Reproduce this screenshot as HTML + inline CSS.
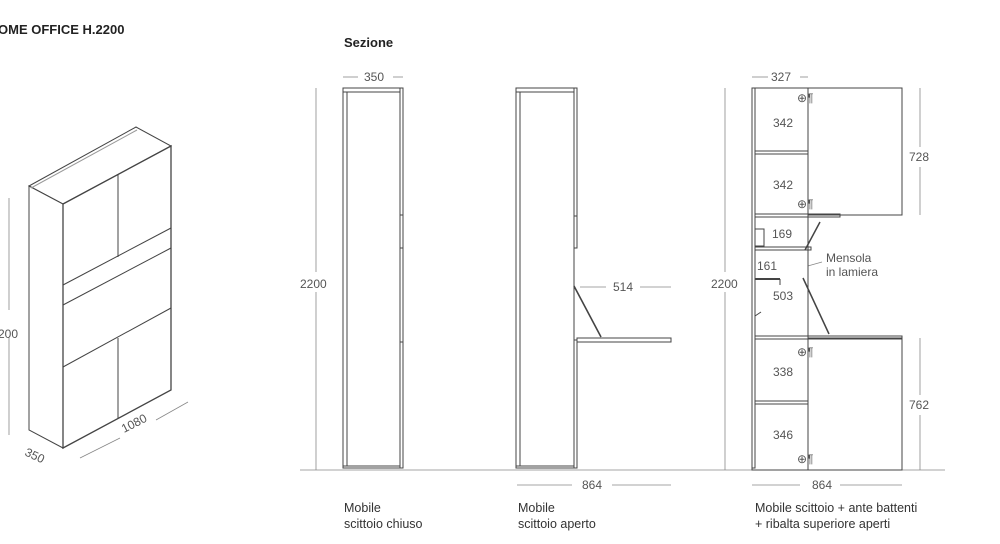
<!DOCTYPE html>
<html><head><meta charset="utf-8"><style>
html,body{margin:0;padding:0;background:#fff;width:1000px;height:544px;overflow:hidden}
svg{display:block}
text{font-family:"Liberation Sans",sans-serif;fill:#555;font-size:12px}
.b{fill:#222;font-weight:bold;font-size:13px}
.c{fill:#333;font-size:12.5px}
</style></head><body>
<svg width="1000" height="544" viewBox="0 0 1000 544" xmlns="http://www.w3.org/2000/svg">
<g stroke="#444" stroke-width="1" fill="none">
<!-- iso cabinet -->
<polygon points="29,186 136,127 171,146 63,204" fill="#fff"/>
<polygon points="29,186 63,204 63,448 29,430" fill="#fff"/>
<polygon points="63,204 171,146 171,390 63,448" fill="#fff" stroke-width="1.3"/>
<line x1="31" y1="188" x2="137" y2="130" stroke="#999"/>
<line x1="63" y1="285" x2="171" y2="228"/>
<line x1="63" y1="305" x2="171" y2="248"/>
<line x1="63" y1="367" x2="171" y2="308"/>
<line x1="118" y1="175" x2="118" y2="257"/>
<line x1="118" y1="338" x2="118" y2="418"/>
<g stroke="#888" stroke-width="0.8">
<line x1="9" y1="198" x2="9" y2="310"/><line x1="9" y1="338" x2="9" y2="435"/>
<line x1="80" y1="458" x2="120" y2="438"/><line x1="156" y1="420" x2="188" y2="402"/>
<line x1="316" y1="88" x2="316" y2="272"/><line x1="316" y1="292" x2="316" y2="470"/>
<line x1="300" y1="470" x2="945" y2="470"/>
<line x1="343" y1="77" x2="358" y2="77"/><line x1="393" y1="77" x2="403" y2="77"/>
<line x1="580" y1="287" x2="606" y2="287"/><line x1="640" y1="287" x2="671" y2="287"/>
<line x1="517" y1="485" x2="572" y2="485"/><line x1="612" y1="485" x2="671" y2="485"/>
<line x1="752" y1="485" x2="800" y2="485"/><line x1="840" y1="485" x2="902" y2="485"/>
<line x1="752" y1="77" x2="768" y2="77"/><line x1="800" y1="77" x2="808" y2="77"/>
<line x1="725" y1="88" x2="725" y2="272"/><line x1="725" y1="292" x2="725" y2="470"/>
<line x1="920" y1="88" x2="920" y2="147"/><line x1="920" y1="167" x2="920" y2="215"/>
<line x1="920" y1="338" x2="920" y2="395"/><line x1="920" y1="415" x2="920" y2="470"/>
<line x1="783" y1="92" x2="783" y2="114"/><line x1="783" y1="130" x2="783" y2="176"/><line x1="783" y1="192" x2="783" y2="213"/>
<line x1="783" y1="340" x2="783" y2="364"/><line x1="783" y1="380" x2="783" y2="426"/><line x1="783" y1="442" x2="783" y2="466"/>
<line x1="765" y1="278" x2="822" y2="262"/>
</g>
<!-- section 1 -->
<rect x="343" y="88" width="57" height="380" fill="#fff"/>
<line x1="347" y1="92" x2="347" y2="466"/>
<line x1="343" y1="92" x2="400" y2="92"/><line x1="343" y1="466" x2="400" y2="466"/>
<rect x="400" y="88" width="3" height="380"/>
<line x1="400" y1="215" x2="403" y2="215"/><line x1="400" y1="248" x2="403" y2="248"/><line x1="400" y1="342" x2="403" y2="342"/>
<!-- section 2 -->
<rect x="516" y="88" width="58" height="380" fill="#fff"/>
<line x1="520" y1="92" x2="520" y2="466"/>
<line x1="516" y1="92" x2="574" y2="92"/><line x1="516" y1="466" x2="574" y2="466"/>
<rect x="574" y="88" width="3" height="128"/>
<rect x="574" y="216" width="3" height="32"/>
<rect x="574" y="340" width="3" height="128"/>
<rect x="577" y="338" width="94" height="4"/>
<line x1="574" y1="286" x2="601" y2="337" stroke-width="1.6"/>
<!-- section 3 -->
<rect x="752" y="88" width="56" height="382" fill="#fff"/>
<rect x="752" y="88" width="3" height="380"/>
<rect x="808" y="88" width="94" height="127"/>
<rect x="808" y="338" width="94" height="132"/>
<rect x="755" y="151" width="53" height="3"/>
<rect x="755" y="214" width="85" height="3"/>
<rect x="755" y="247" width="56" height="3"/>
<rect x="755" y="401" width="53" height="3"/>
<rect x="755" y="336" width="147" height="3"/>
<line x1="755" y1="279" x2="780" y2="279" stroke-width="2"/>
<line x1="780" y1="279" x2="780" y2="285"/>
<line x1="805" y1="250" x2="820" y2="222" stroke-width="1.5"/>
<line x1="803" y1="278" x2="829" y2="334" stroke-width="1.5"/>
<rect x="755" y="229" width="9" height="17"/>
<line x1="755" y1="316" x2="761" y2="312"/>
</g>
<g fill="#555" font-size="10">
<text x="797" y="102">⊕¶</text><text x="797" y="208">⊕¶</text><text x="797" y="356">⊕¶</text><text x="797" y="463">⊕¶</text>
</g>
<text class="b" x="-2" y="34">OME OFFICE H.2200</text>
<text class="b" x="344" y="47">Sezione</text>
<text x="-2" y="338">200</text>
<text x="24" y="455" transform="rotate(25 24 455)">350</text>
<text x="124" y="433" transform="rotate(-27 124 433)">1080</text>
<text x="300" y="288">2200</text>
<text x="364" y="81">350</text>
<text x="613" y="291">514</text>
<text x="582" y="489">864</text>
<text x="711" y="288">2200</text>
<text x="771" y="81">327</text>
<text x="773" y="127">342</text><text x="773" y="189">342</text>
<text x="772" y="238">169</text><text x="757" y="270">161</text><text x="773" y="300">503</text>
<text x="773" y="376">338</text><text x="773" y="439">346</text>
<text x="909" y="161">728</text><text x="909" y="409">762</text>
<text x="826" y="262">Mensola</text><text x="826" y="276">in lamiera</text>
<text x="812" y="489">864</text>
<text class="c" x="344" y="512">Mobile</text><text class="c" x="344" y="528">scittoio chiuso</text>
<text class="c" x="518" y="512">Mobile</text><text class="c" x="518" y="528">scittoio aperto</text>
<text class="c" x="755" y="512">Mobile scittoio + ante battenti</text>
<text class="c" x="755" y="528">+ ribalta superiore aperti</text>
</svg>
</body></html>
